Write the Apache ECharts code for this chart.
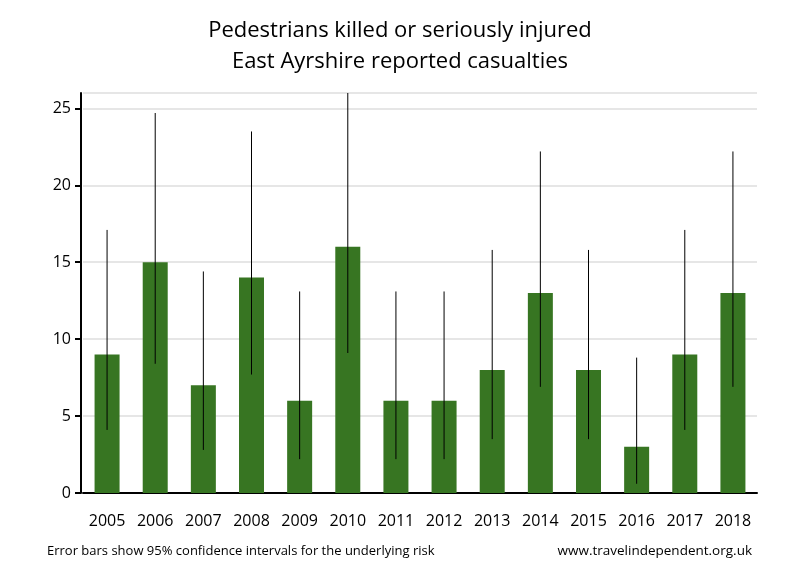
<!DOCTYPE html>
<html>
<head>
<meta charset="utf-8">
<script src="https://cdn.jsdelivr.net/npm/echarts@6/dist/echarts.min.js"></script>
<style>
  html, body { margin: 0; padding: 0; background: #fff; }
  #main { width: 800px; height: 580px; }
</style>
</head>
<body>
<div id="main"></div>
<script>
// Data
var years = ['2005', '2006', '2007', '2008', '2009', '2010', '2011', '2012', '2013', '2014', '2015', '2016', '2017', '2018'];
var casualties = [9, 15, 7, 14, 6, 16, 6, 6, 8, 13, 8, 3, 9, 13];
var lowerCI = [4.1, 8.4, 2.8, 7.7, 2.2, 9.1, 2.2, 2.2, 3.5, 6.9, 3.5, 0.6, 4.1, 6.9];
var upperCI = [17.1, 24.7, 14.4, 23.5, 13.1, 26.0, 13.1, 13.1, 15.8, 22.2, 15.8, 8.8, 17.1, 22.2];

var myChart = echarts.init(document.getElementById('main'));

var fontFamily = '"Open Sans", "Noto Sans", sans-serif';

var errorData = years.map(function (y, i) {
  return [i, lowerCI[i], upperCI[i]];
});

var option = {
  animation: false,
  title: {
    text: 'Pedestrians killed or seriously injured\nEast Ayrshire reported casualties',
    left: 'center',
    top: 10,
    textStyle: {
      fontFamily: fontFamily,
      fontSize: 22,
      fontWeight: 'normal',
      color: '#000',
      lineHeight: 31
    }
  },
  grid: {
    left: 83,
    right: 43,
    top: 93,
    bottom: 87
  },
  xAxis: {
    type: 'category',
    data: years,
    axisLine: { lineStyle: { color: '#000', width: 2 } },
    axisTick: { show: false },
    axisLabel: {
      fontFamily: fontFamily,
      fontSize: 16,
      color: '#000',
      margin: 20
    }
  },
  yAxis: {
    type: 'value',
    min: 0,
    max: 26,
    interval: 5,
    offset: 2,
    axisLine: { show: true, lineStyle: { color: '#000', width: 2 } },
    axisTick: { show: true, length: 6, lineStyle: { color: '#000', width: 2 } },
    axisLabel: {
      fontFamily: fontFamily,
      fontSize: 16,
      color: '#000',
      margin: 10,
      showMaxLabel: false
    },
    splitLine: { lineStyle: { color: '#e6e6e6', width: 2 } }
  },
  graphic: [
    {
      type: 'text',
      left: 47,
      top: 545,
      style: {
        text: 'Error bars show 95% confidence intervals for the underlying risk',
        font: '13px ' + fontFamily,
        fill: '#000'
      }
    },
    {
      type: 'text',
      right: 48,
      top: 544,
      style: {
        text: 'www.travelindependent.org.uk',
        font: '13.5px ' + fontFamily,
        fill: '#000'
      }
    }
  ],
  series: [
    {
      type: 'bar',
      data: casualties,
      barWidth: 25,
      itemStyle: { color: '#377522' }
    },
    {
      type: 'custom',
      data: errorData,
      z: 10,
      renderItem: function (params, api) {
        var x = api.value(0);
        var lo = api.coord([x, api.value(1)]);
        var hi = api.coord([x, api.value(2)]);
        return {
          type: 'line',
          shape: { x1: lo[0], y1: lo[1], x2: hi[0], y2: hi[1] },
          style: { stroke: '#000', lineWidth: 1 }
        };
      }
    }
  ]
};

myChart.setOption(option);
</script>
</body>
</html>
